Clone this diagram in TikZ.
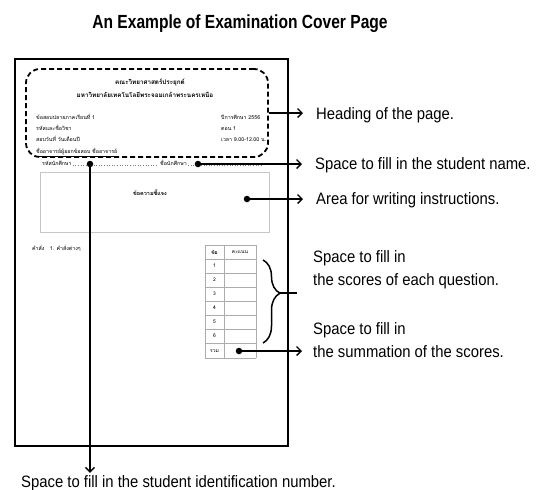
\documentclass[tikz,border=0pt]{standalone}
\usepackage{fontspec}
\setmainfont{Liberation Sans}
\newfontfamily\annfont[FakeStretch=0.9]{Liberation Sans}
\newfontfamily\titlefont[FakeStretch=0.82]{Liberation Sans}
\newfontfamily\thaifont[Script=Thai]{Loma}
\usetikzlibrary{arrows.meta,decorations.pathreplacing}
\begin{document}
\begin{tikzpicture}[x=1pt,y=-1pt,
  ann/.style={anchor=base west,inner sep=0pt,align=left,font=\annfont\fontsize{16.5}{22.5}\selectfont},
  th/.style={anchor=base west,inner sep=0pt,font=\thaifont\fontsize{5.3}{6}\selectfont},
  thh/.style={anchor=base,inner sep=0pt,font=\thaifont\bfseries\fontsize{6.3}{7}\selectfont},
  thc/.style={anchor=center,inner sep=0pt,font=\thaifont\fontsize{5}{6}\selectfont},
  dotpt/.style={circle,fill=black,inner sep=0pt,minimum size=6.5pt},
  conn/.style={line width=1.5pt,-{Straight Barb[length=4.5pt,width=9pt,line width=1.4pt]}},
  tablerule/.style={draw=gray!65,line width=0.6pt}
]
\useasboundingbox (0,0) rectangle (542,490);

% title
\node[anchor=base,inner sep=0pt,font=\titlefont\bfseries\fontsize{19}{19}\selectfont] (title) at (240,28) {An Example of Examination Cover Page};

% page
\node[draw,line width=1.8pt,minimum width=273pt,minimum height=387pt,inner sep=0pt] (page) at (151.5,252.5) {};

% heading area (dashed)
\node[draw,line width=1.8pt,dash pattern=on 5pt off 3pt,rounded corners=14pt,minimum width=242pt,minimum height=88pt,inner sep=0pt] (head) at (147,113) {};

\node[thh] (h1) at (150,84) {คณะวิทยาศาสตร์ประยุกต์};
\node[thh] (h2) at (145,97) {มหาวิทยาลัยเทคโนโลยีพระจอมเกล้าพระนครเหนือ};
\node[th] (l1) at (36,119) {ข้อสอบปลายภาคเรียนที่ 1};
\node[th] (l2) at (36,130) {รหัสและชื่อวิชา};
\node[th] (l3) at (36,141) {สอบวันที่ วันเดือนปี};
\node[th] (l4) at (36,153) {\underline{ชื่ออาจารย์ผู้ออกข้อสอบ ชื่ออาจารย์}};
\node[th] (r1) at (221,119) {ปีการศึกษา 2556};
\node[th] (r2) at (221,130) {ตอน 1};
\node[th] (r3) at (221,141) {เวลา 9.00-12.00 น.};

% student row
\node[th] (sid) at (42,165) {รหัสนักศึกษา};
\node[th] (sname) at (160,165) {ชื่อนักศึกษา};
\draw[gray,dotted,line width=0.6pt] (sid.base east) ++(1pt,0) -- (157,165);
\draw[gray,dotted,line width=0.6pt] (sname.base east) ++(1pt,0) -- (263,165);

% instructions box
\node[draw=gray!45,line width=0.7pt,minimum width=229pt,minimum height=60pt,inner sep=0pt] (instr) at (154.5,202) {};
\node[thh,font=\thaifont\bfseries\fontsize{5.5}{6}\selectfont] (instrtxt) at (150,195) {ข้อความชี้แจง};

\node[th] (cmd) at (32,250) {คำสั่ง\quad 1. คำสั่งต่างๆ};

% score table
\foreach \yy in {245,259,273,287,301,315,329,343,358}
  \draw[tablerule] (205,\yy) -- (256,\yy);
\draw[tablerule] (205,245) -- (205,358);
\draw[tablerule] (224,245) -- (224,358);
\draw[tablerule] (256,245) -- (256,358);
\node[thc,font=\thaifont\bfseries\fontsize{5}{6}\selectfont] (c0) at (214.5,252) {ข้อ};
\node[thc] (s0) at (240,252) {คะแนน};
\foreach \n/\yy in {1/266,2/280,3/294,4/308,5/322,6/336}
  \node[thc] (c\n) at (214.5,\yy) {\n};
\node[thc] (c7) at (214.5,351) {รวม};

% annotation texts
\node[ann] (theading) at (316,119) {Heading of the page.};
\node[ann] (tname) at (315,169) {Space to fill in the student name.};
\node[ann] (tinstr) at (316,204) {Area for writing instructions.};
\node[ann,anchor=base west] (tscores) at (313,285) {Space to fill in\\the scores of each question.};
\node[ann] (tsum) at (313,357) {Space to fill in\\the summation of the scores.};
\node[ann] (tid) at (21,487) {Space to fill in the student identification number.};

% points
\node[dotpt] (pid) at (90,164) {};
\node[dotpt] (pname) at (198,164) {};
\node[dotpt] (pinstr) at (247,199) {};
\node[dotpt] (psum) at (239,351) {};

% connectors
\draw[conn,shorten >=13pt] (head.east) -- (head.east -| theading.west);
\draw[conn,shorten >=13pt] (pname.center) -- (pname.center -| tname.west);
\draw[conn,shorten >=13pt] (pinstr.center) -- (pinstr.center -| tinstr.west);
\draw[conn,shorten >=11pt] (psum.center) -- (psum.center -| tsum.west);
\draw[conn,shorten >=2pt] (pid.center) -- (pid.center |- tid.north);

% brace
\draw[line width=1.5pt,decorate,decoration={brace,amplitude=17pt,aspect=0.4}] (263,260) -- (263,343);
\coordinate (btip) at (280,293.2);
\draw[line width=1.5pt,shorten >=16pt] (btip) -- (btip -| tscores.west);
\end{tikzpicture}
\end{document}
